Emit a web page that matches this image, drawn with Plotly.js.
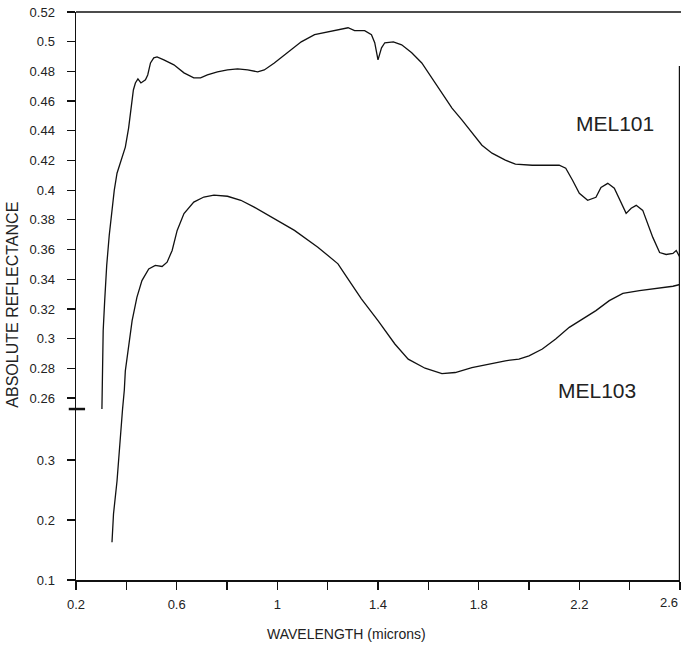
<!DOCTYPE html>
<html>
<head>
<meta charset="utf-8">
<script src="https://cdn.plot.ly/plotly-3.0.1.min.js"></script>
<style>
  html, body { margin: 0; padding: 0; background: #fff; }
  #chart { width: 681px; height: 647px; }
</style>
</head>
<body>
<div id="chart"></div>
<script>
// MEL101 reflectance spectrum (upper scale)
const mel101Wavelength = [
  0.303, 0.305, 0.308, 0.314, 0.322, 0.332, 0.342, 0.352, 0.363, 0.376,
  0.396, 0.409, 0.420, 0.428, 0.436, 0.446, 0.458, 0.476, 0.485, 0.496,
  0.509, 0.522, 0.549, 0.589, 0.629, 0.668, 0.695, 0.722, 0.762, 0.802,
  0.842, 0.882, 0.922, 0.948, 0.988, 1.041, 1.095, 1.148, 1.201, 1.254,
  1.281, 1.307, 1.347, 1.374, 1.387, 1.400, 1.414, 1.427, 1.461, 1.494,
  1.534, 1.574, 1.614, 1.654, 1.694, 1.734, 1.774, 1.813, 1.853, 1.906,
  1.946, 2.013, 2.120, 2.146, 2.173, 2.200, 2.233, 2.266, 2.286, 2.313,
  2.339, 2.366, 2.386, 2.406, 2.426, 2.452, 2.472, 2.492, 2.519, 2.545,
  2.572, 2.585, 2.600
];
const mel101Reflectance = [
  0.2526, 0.2783, 0.3053, 0.3256, 0.3493, 0.3695, 0.3864, 0.3999, 0.4114, 0.4188,
  0.4290, 0.4418, 0.4587, 0.4675, 0.4722, 0.4749, 0.4722, 0.4743, 0.4776, 0.4857,
  0.4891, 0.4898, 0.4878, 0.4844, 0.4790, 0.4756, 0.4756, 0.4776, 0.4797, 0.4810,
  0.4817, 0.4810, 0.4797, 0.4810, 0.4857, 0.4925, 0.4999, 0.5047, 0.5067, 0.5087,
  0.5094, 0.5074, 0.5074, 0.5047, 0.4993, 0.4878, 0.4959, 0.4993, 0.4999, 0.4979,
  0.4925, 0.4857, 0.4756, 0.4655, 0.4553, 0.4472, 0.4384, 0.4303, 0.4249, 0.4202,
  0.4175, 0.4168, 0.4168, 0.4148, 0.4067, 0.3979, 0.3932, 0.3952, 0.4019, 0.4046,
  0.4013, 0.3911, 0.3844, 0.3878, 0.3898, 0.3864, 0.3776, 0.3682, 0.3580, 0.3567,
  0.3574, 0.3594, 0.3547
];

// MEL103 rising edge below the axis break (lower scale)
const mel103LowWavelength = [0.343, 0.349, 0.363, 0.373, 0.383, 0.385];
const mel103LowReflectance = [0.163, 0.210, 0.265, 0.3205, 0.376, 0.385];

// MEL103 spectrum above the axis break (upper scale)
const mel103Wavelength = [
  0.385, 0.392, 0.396, 0.409, 0.423, 0.442, 0.462, 0.489, 0.515, 0.542,
  0.562, 0.582, 0.602, 0.629, 0.668, 0.708, 0.748, 0.802, 0.855, 0.908,
  0.975, 1.068, 1.161, 1.241, 1.266, 1.300, 1.334, 1.400, 1.467, 1.520,
  1.587, 1.654, 1.707, 1.773, 1.840, 1.906, 1.960, 2.000, 2.053, 2.106,
  2.160, 2.213, 2.266, 2.319, 2.373, 2.439, 2.505, 2.572, 2.600
];
const mel103Reflectance = [
  0.2526, 0.2654, 0.2783, 0.2941, 0.3121, 0.3278, 0.3391, 0.3470, 0.3493, 0.3486,
  0.3515, 0.3594, 0.3729, 0.3842, 0.3920, 0.3954, 0.3966, 0.3959, 0.3932, 0.3886,
  0.3819, 0.3729, 0.3616, 0.3504, 0.3440, 0.3355, 0.3268, 0.3121, 0.2964, 0.2862,
  0.2801, 0.2765, 0.2772, 0.2805, 0.2828, 0.2851, 0.2862, 0.2884, 0.2930, 0.2997,
  0.3076, 0.3132, 0.3189, 0.3256, 0.3305, 0.3324, 0.3339, 0.3353, 0.3365
];

// Axis ticks (2.6 sits on the right edge and is set flush right below)
const xTickValues = [0.2, 0.6, 1.0, 1.4, 1.8, 2.2];
const xTickLabels = ['0.2', '0.6', '1', '1.4', '1.8', '2.2'];
const xEdgeLabel = '2.6';
const upperTickValues = [0.26, 0.28, 0.30, 0.32, 0.34, 0.36, 0.38, 0.40, 0.42, 0.44, 0.46, 0.48, 0.50, 0.52];
const upperTickLabels = ['0.26', '0.28', '0.3', '0.32', '0.34', '0.36', '0.38', '0.4', '0.42', '0.44', '0.46', '0.48', '0.5', '0.52'];
const lowerTickValues = [0.1, 0.2, 0.3];
const lowerTickLabels = ['0.1', '0.2', '0.3'];

const INK = '#111';
const lineStyle = { color: INK, width: 1.3, shape: 'linear' };

const traces = [
  { x: mel101Wavelength, y: mel101Reflectance, xaxis: 'x', yaxis: 'y',
    mode: 'lines', line: lineStyle, name: 'MEL101', hoverinfo: 'x+y' },
  { x: mel103Wavelength, y: mel103Reflectance, xaxis: 'x', yaxis: 'y',
    mode: 'lines', line: lineStyle, name: 'MEL103', hoverinfo: 'x+y' },
  { x: mel103LowWavelength, y: mel103LowReflectance, xaxis: 'x', yaxis: 'y2',
    mode: 'lines', line: lineStyle, name: 'MEL103', hoverinfo: 'x+y' }
];

const FONT = 'Liberation Sans, Arial, sans-serif';
const tickFont = { family: FONT, size: 13, color: '#222' };
const breakFrac = 0.301;

const layout = {
  width: 681,
  height: 647,
  margin: { l: 76, r: 1, t: 12, b: 67 },
  paper_bgcolor: '#fff',
  plot_bgcolor: '#fff',
  showlegend: false,
  xaxis: {
    range: [0.2, 2.6],
    anchor: 'y2',
    tickmode: 'array',
    tickvals: xTickValues,
    ticktext: xTickLabels,
    ticks: 'outside',
    ticklen: 8,
    tickwidth: 1.2,
    tickcolor: INK,
    minor: { tickmode: 'linear', tick0: 0.2, dtick: 0.2, ticks: 'outside', ticklen: 8, tickwidth: 1.2, tickcolor: INK },
    showline: true,
    linecolor: INK,
    linewidth: 1.5,
    showgrid: false,
    zeroline: false,
    tickfont: tickFont,
    ticklabelstandoff: 4
  },
  yaxis: {
    domain: [breakFrac, 1],
    range: [0.2526, 0.52],
    anchor: 'x',
    tickmode: 'array',
    tickvals: upperTickValues,
    ticktext: upperTickLabels,
    ticks: 'outside',
    ticklen: 8,
    tickwidth: 1.2,
    tickcolor: INK,
    showline: true,
    linecolor: INK,
    linewidth: 1.5,
    showgrid: false,
    zeroline: false,
    tickfont: tickFont,
    ticklabelstandoff: 9
  },
  yaxis2: {
    domain: [0, breakFrac],
    range: [0.1, 0.385],
    anchor: 'x',
    tickmode: 'array',
    tickvals: lowerTickValues,
    ticktext: lowerTickLabels,
    ticks: 'outside',
    ticklen: 8,
    tickwidth: 1.2,
    tickcolor: INK,
    showline: true,
    linecolor: INK,
    linewidth: 1.5,
    showgrid: false,
    zeroline: false,
    tickfont: tickFont,
    ticklabelstandoff: 9
  },
  shapes: [
    // frame top
    { type: 'line', xref: 'paper', yref: 'paper', x0: 0, x1: 1.002, y0: 1, y1: 1,
      line: { color: INK, width: 1.5 } },
    // frame right
    { type: 'line', xref: 'paper', yref: 'paper', x0: 0.999, x1: 0.999, y0: 0, y1: 0.905,
      line: { color: INK, width: 1.2 } },
    // axis break mark
    { type: 'line', xref: 'paper', yref: 'paper', x0: -0.012, x1: 0.015, y0: breakFrac, y1: breakFrac,
      line: { color: INK, width: 2.5 } }
  ],
  annotations: [
    { text: 'ABSOLUTE REFLECTANCE', xref: 'paper', yref: 'paper',
      x: -0.105, y: 0.484, xanchor: 'center', yanchor: 'middle', textangle: -90,
      showarrow: false, font: { family: FONT, size: 16, color: '#222' } },
    { text: 'WAVELENGTH (microns)', xref: 'paper', yref: 'paper',
      x: 0.448, y: -0.095, xanchor: 'center', yanchor: 'middle',
      showarrow: false, font: { family: FONT, size: 14, color: '#222' } },
    { text: xEdgeLabel, xref: 'paper', yref: 'paper', x: 1.0, y: -0.039,
      xanchor: 'right', yanchor: 'middle', showarrow: false, font: tickFont },
    { text: 'MEL101', xref: 'x', yref: 'y', x: 2.34, y: 0.4446,
      xanchor: 'center', yanchor: 'middle', showarrow: false,
      font: { family: FONT, size: 21, color: '#222' } },
    { text: 'MEL103', xref: 'x', yref: 'y', x: 2.27, y: 0.2651,
      xanchor: 'center', yanchor: 'middle', showarrow: false,
      font: { family: FONT, size: 21, color: '#222' } }
  ]
};

Plotly.newPlot('chart', traces, layout, { displayModeBar: false, staticPlot: true });
</script>
</body>
</html>
